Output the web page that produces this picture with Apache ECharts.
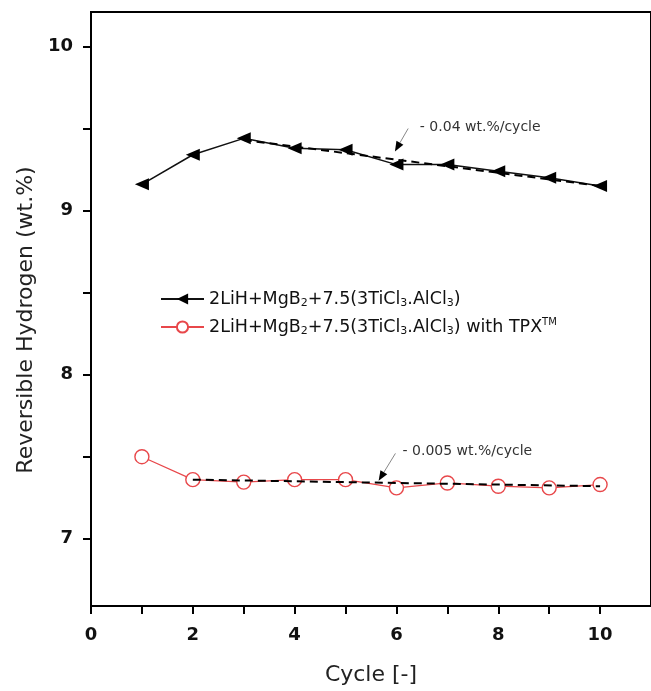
<!DOCTYPE html>
<html><head><meta charset="utf-8">
<script src="https://cdn.jsdelivr.net/npm/echarts@6/dist/echarts.min.js"></script>
<style>html,body{margin:0;padding:0;background:#fff}#c{width:651px;height:691px}</style>
</head><body><div id="c"></div>
<script>
const cycles = [1,2,3,4,5,6,7,8,9,10];
const baseValues = [9.16,9.34,9.44,9.38,9.37,9.28,9.28,9.24,9.20,9.15];
const tpxValues  = [7.50,7.36,7.345,7.36,7.36,7.31,7.34,7.32,7.31,7.33];
const fitBaseX = [3,10];
const fitBaseY = [9.43,9.15];
const fitTpxX = [2,10];
const fitTpxY = [7.36,7.32];
const xLabels = [0,2,4,6,8,10];
const xTicks = [0,1,2,3,4,5,6,7,8,9,10];
const yLabels = [7,8,9,10];
const yTicks = [7,7.5,8,8.5,9,9.5,10];
const seriesNames = ['2LiH+MgB{sub|2}+7.5(3TiCl{sub|3}.AlCl{sub|3})',
                     '2LiH+MgB{sub|2}+7.5(3TiCl{sub|3}.AlCl{sub|3}) with TPX{sup|TM}'];
const annotations = [
  {text:'- 0.04 wt.%/cycle', tail:[6.23,9.50], tip:[5.97,9.36], label:[6.46,9.51]},
  {text:'- 0.005 wt.%/cycle', tail:[5.98,7.52], tip:[5.65,7.353], label:[6.12,7.535]}
];

const chart = echarts.init(document.getElementById('c'), null, {renderer:'canvas'});
const font = '"DejaVu Sans", sans-serif';
const option = {
  animation:false,
  backgroundColor:'#fff',
  grid:{left:91, right:-9, top:12, bottom:79, show:true, borderColor:'#000', borderWidth:2, containLabel:false},
  legend:{
    left:160, top:289, padding:0, orient:'vertical', itemWidth:43, itemHeight:14, itemGap:8,
    data:['base','tpx'],
    formatter:function(n){return n==='base'?seriesNames[0]:seriesNames[1];},
    textStyle:{fontFamily:font, fontSize:17.5, color:'#111', lineHeight:20,
      rich:{sub:{fontFamily:font,fontSize:11,verticalAlign:'bottom',lineHeight:11,padding:[9,0,0,0]},
            sup:{fontFamily:font,fontSize:10,verticalAlign:'top',lineHeight:10,padding:[0,0,9,0]}}}
  },
  xAxis:{
    type:'value', min:0, max:11,
    name:'Cycle [-]', nameLocation:'middle', nameGap:58,
    nameTextStyle:{fontFamily:font, fontSize:22, color:'#222'},
    axisLine:{lineStyle:{color:'#000', width:2}},
    axisTick:{show:true, length:8, lineStyle:{color:'#000',width:2}, customValues:xTicks},
    axisLabel:{fontFamily:font, fontSize:18, fontWeight:'bold', color:'#111', margin:20, customValues:xLabels},
    splitLine:{show:false}
  },
  yAxis:{
    type:'value', min:6.59, max:10.21,
    name:'Reversible Hydrogen (wt.%)', nameLocation:'middle', nameGap:51,
    nameTextStyle:{fontFamily:font, fontSize:22, color:'#222', padding:[0,22,0,0]},
    axisLine:{lineStyle:{color:'#000', width:2}},
    axisTick:{show:true, length:8, lineStyle:{color:'#000',width:2}, customValues:yTicks},
    axisLabel:{fontFamily:font, fontSize:18, fontWeight:'bold', color:'#111', margin:18, customValues:yLabels},
    splitLine:{show:false}
  },
  series:[
    {name:'base', type:'line', data:cycles.map((c,i)=>[c,baseValues[i]]),
     symbol:'triangle', symbolSize:[12,14], symbolRotate:90,
     lineStyle:{color:'#111', width:1.5}, itemStyle:{color:'#000'}, z:3},
    {name:'tpx', type:'line', data:cycles.map((c,i)=>[c,tpxValues[i]]),
     symbol:'circle', symbolSize:14, showSymbol:true,
     lineStyle:{color:'#e8474a', width:1.2}, itemStyle:{color:'#fff', borderColor:'#e8474a', borderWidth:1.4}, z:3},
    {name:'fitBase', type:'line', data:fitBaseX.map((x,i)=>[x,fitBaseY[i]]), symbol:'none',
     lineStyle:{color:'#000', width:2, type:[8,5]}, z:4},
    {name:'fitTpx', type:'line', data:fitTpxX.map((x,i)=>[x,fitTpxY[i]]), symbol:'none',
     lineStyle:{color:'#000', width:2, type:[8,5]}, z:4}
  ]
};
chart.setOption(option);

const g = [];
annotations.forEach(a=>{
  const t = chart.convertToPixel({gridIndex:0}, a.tail);
  const p = chart.convertToPixel({gridIndex:0}, a.tip);
  const l = chart.convertToPixel({gridIndex:0}, a.label);
  const dx = p[0]-t[0], dy = p[1]-t[1], len = Math.hypot(dx,dy);
  const ux = dx/len, uy = dy/len, hl = 10, hw = 4;
  const bx = p[0]-ux*hl, by = p[1]-uy*hl;
  g.push({type:'line', shape:{x1:t[0],y1:t[1],x2:bx,y2:by}, style:{stroke:'#888', lineWidth:1}, z:10});
  g.push({type:'polygon', shape:{points:[[p[0],p[1]],[bx-uy*hw,by+ux*hw],[bx+uy*hw,by-ux*hw]]}, style:{fill:'#000'}, z:10});
  g.push({type:'text', x:l[0], y:l[1], style:{text:a.text, fontFamily:font, fontSize:14, fill:'#333', verticalAlign:'middle', align:'left'}, z:10});
});
chart.setOption({graphic:g});
</script></body></html>
